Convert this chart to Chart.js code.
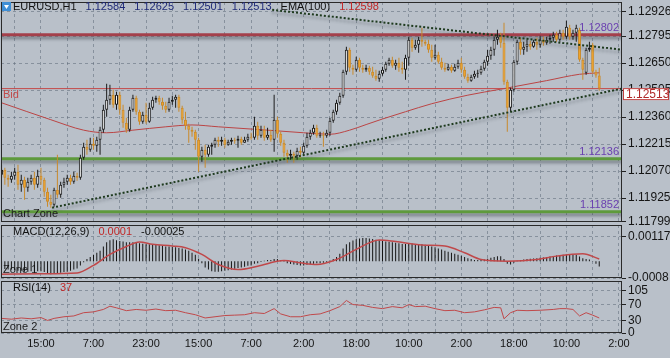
<!DOCTYPE html>
<html><head><meta charset="utf-8">
<script src="https://cdn.jsdelivr.net/npm/chart.js@4.4.1/dist/chart.umd.min.js"></script>
<style>
html,body{margin:0;padding:0;}
body{width:670px;height:358px;overflow:hidden;background:#b9c0c9;position:relative;}
canvas{position:absolute;left:0;}
</style></head><body>
<canvas id="main" width="670" height="240" style="top:0;width:670px;height:240px"></canvas>
<canvas id="macd" width="670" height="75" style="top:214px;width:670px;height:75px"></canvas>
<canvas id="rsi" width="670" height="88" style="top:270px;width:670px;height:88px"></canvas>
<script>
// ---------------- DATA ----------------
const symbol = 'EURUSD,H1';
const tickLabels = ['15:00','7:00','23:00','15:00','7:00','2:00','18:00','10:00','2:00','18:00','10:00','2:00'];
const priceTicks = [1.11799,1.11925,1.12070,1.12215,1.12360,1.12505,1.12650,1.12795,1.12926];
const macdTicks = [-0.0008,0.00117];
const rsiTicks = [0,30,70,105];

const opens = [
1.12051,1.12077,1.12034,1.12024,1.12045,1.12067,1.11997,1.12024,1.11981,1.12013,
1.12034,1.11997,1.12045,1.12024,1.11959,1.11906,1.11890,1.11970,1.11943,1.11997,
1.12013,1.12034,1.12013,1.12045,1.12034,1.12142,1.12201,1.12185,1.12217,1.12206,
1.12239,1.12292,1.12400,1.12453,1.12480,1.12427,1.12480,1.12400,1.12330,1.12292,
1.12400,1.12464,1.12389,1.12335,1.12373,1.12335,1.12410,1.12453,1.12464,1.12443,
1.12421,1.12400,1.12443,1.12453,1.12470,1.12410,1.12346,1.12314,1.12292,1.12282,
1.12239,1.12147,1.12185,1.12158,1.12201,1.12212,1.12239,1.12228,1.12239,1.12212,
1.12228,1.12239,1.12233,1.12244,1.12223,1.12239,1.12255,1.12249,1.12314,1.12260,
1.12292,1.12249,1.12266,1.12239,1.12346,1.12271,1.12223,1.12169,1.12153,1.12163,
1.12153,1.12180,1.12169,1.12206,1.12255,1.12276,1.12303,1.12260,1.12266,1.12260,
1.12276,1.12341,1.12389,1.12437,1.12475,1.12604,1.12722,1.12625,1.12614,1.12668,
1.12625,1.12614,1.12625,1.12604,1.12582,1.12566,1.12593,1.12614,1.12646,1.12668,
1.12636,1.12652,1.12625,1.12614,1.12679,1.12775,1.12732,1.12748,1.12775,1.12765,
1.12754,1.12722,1.12679,1.12695,1.12657,1.12625,1.12614,1.12630,1.12609,1.12630,
1.12652,1.12614,1.12577,1.12555,1.12577,1.12593,1.12598,1.12620,1.12657,1.12689,
1.12722,1.12775,1.12791,1.12759,1.12550,1.12410,1.12507,1.12657,1.12765,1.12722,
1.12738,1.12754,1.12738,1.12765,1.12748,1.12775,1.12759,1.12775,1.12786,1.12802,
1.12775,1.12813,1.12791,1.12840,1.12791,1.12813,1.12829,1.12668,1.12598,1.12722,
1.12748,1.12604,1.12584];
const highs = [
1.12104,1.12088,1.12051,1.12067,1.12088,1.12104,1.12051,1.12040,1.12034,1.12051,
1.12067,1.12077,1.12088,1.12034,1.11981,1.11943,1.11981,1.12158,1.12013,1.12034,
1.12051,1.12051,1.12067,1.12061,1.12158,1.12223,1.12239,1.12249,1.12249,1.12255,
1.12308,1.12427,1.12539,1.12534,1.12507,1.12496,1.12496,1.12427,1.12357,1.12416,
1.12480,1.12475,1.12400,1.12389,1.12437,1.12437,1.12470,1.12475,1.12475,1.12464,
1.12443,1.12464,1.12475,1.12480,1.12480,1.12421,1.12389,1.12325,1.12308,1.12292,
1.12249,1.12201,1.12212,1.12212,1.12223,1.12249,1.12255,1.12255,1.12249,1.12239,
1.12249,1.12249,1.12260,1.12255,1.12255,1.12271,1.12276,1.12362,1.12335,1.12314,
1.12314,1.12303,1.12292,1.12480,1.12362,1.12282,1.12239,1.12185,1.12185,1.12174,
1.12196,1.12201,1.12223,1.12276,1.12292,1.12319,1.12319,1.12282,1.12282,1.12292,
1.12357,1.12400,1.12453,1.12491,1.12614,1.12738,1.12732,1.12641,1.12684,1.12679,
1.12641,1.12641,1.12636,1.12630,1.12614,1.12609,1.12630,1.12657,1.12679,1.12684,
1.12668,1.12679,1.12657,1.12695,1.12791,1.12786,1.12775,1.12791,1.12840,1.12775,
1.12775,1.12748,1.12748,1.12711,1.12679,1.12652,1.12646,1.12641,1.12646,1.12668,
1.12679,1.12630,1.12593,1.12588,1.12609,1.12614,1.12636,1.12668,1.12722,1.12738,
1.12791,1.12829,1.12813,1.12867,1.12561,1.12518,1.12668,1.12775,1.12786,1.12765,
1.12775,1.12770,1.12775,1.12786,1.12797,1.12791,1.12791,1.12802,1.12818,1.12818,
1.12829,1.12829,1.12877,1.12856,1.12829,1.12856,1.12840,1.12679,1.12732,1.12765,
1.12759,1.12614,1.12625];
const lows = [
1.12034,1.11997,1.11986,1.12008,1.12024,1.11970,1.11959,1.11916,1.11959,1.11997,
1.11970,1.11981,1.11997,1.11933,1.11879,1.11874,1.11879,1.11927,1.11927,1.11981,
1.11997,1.11997,1.12002,1.12018,1.12024,1.12131,1.12158,1.12174,1.12185,1.12174,
1.12158,1.12276,1.12362,1.12427,1.12410,1.12400,1.12373,1.12303,1.12276,1.12282,
1.12389,1.12373,1.12319,1.12325,1.12325,1.12330,1.12400,1.12437,1.12427,1.12400,
1.12384,1.12389,1.12427,1.12410,1.12389,1.12325,1.12292,1.12223,1.12255,1.12185,
1.12067,1.12120,1.12088,1.12147,1.12158,1.12196,1.12201,1.12206,1.12196,1.12206,
1.12212,1.12217,1.12196,1.12212,1.12223,1.12228,1.12239,1.12239,1.12239,1.12249,
1.12233,1.12239,1.12228,1.12174,1.12249,1.12206,1.12147,1.12115,1.12131,1.12115,
1.12131,1.12142,1.12158,1.12196,1.12239,1.12266,1.12249,1.12249,1.12201,1.12249,
1.12260,1.12330,1.12373,1.12427,1.12464,1.12588,1.12604,1.12588,1.12604,1.12604,
1.12598,1.12604,1.12588,1.12571,1.12555,1.12550,1.12582,1.12604,1.12636,1.12625,
1.12614,1.12604,1.12593,1.12561,1.12636,1.12711,1.12722,1.12705,1.12738,1.12743,
1.12705,1.12657,1.12668,1.12646,1.12614,1.12604,1.12609,1.12598,1.12604,1.12620,
1.12598,1.12566,1.12545,1.12550,1.12566,1.12571,1.12588,1.12609,1.12636,1.12668,
1.12689,1.12748,1.12732,1.12534,1.12282,1.12389,1.12496,1.12641,1.12695,1.12695,
1.12711,1.12722,1.12732,1.12722,1.12732,1.12743,1.12748,1.12754,1.12765,1.12765,
1.12765,1.12775,1.12781,1.12775,1.12775,1.12765,1.12657,1.12561,1.12588,1.12711,
1.12593,1.12571,1.12501];
const closes = [
1.12077,1.12034,1.12024,1.12045,1.12067,1.11997,1.12024,1.11981,1.12013,1.12034,
1.11997,1.12045,1.12024,1.11959,1.11906,1.11890,1.11970,1.11943,1.11997,1.12013,
1.12034,1.12013,1.12045,1.12034,1.12142,1.12201,1.12185,1.12217,1.12206,1.12239,
1.12292,1.12400,1.12453,1.12480,1.12427,1.12480,1.12400,1.12330,1.12292,1.12400,
1.12464,1.12389,1.12335,1.12373,1.12335,1.12410,1.12453,1.12464,1.12443,1.12421,
1.12400,1.12443,1.12453,1.12470,1.12410,1.12346,1.12314,1.12292,1.12282,1.12239,
1.12147,1.12185,1.12158,1.12201,1.12212,1.12239,1.12228,1.12239,1.12212,1.12228,
1.12239,1.12233,1.12244,1.12223,1.12239,1.12255,1.12249,1.12314,1.12260,1.12292,
1.12249,1.12266,1.12239,1.12346,1.12271,1.12223,1.12169,1.12153,1.12163,1.12153,
1.12180,1.12169,1.12206,1.12255,1.12276,1.12303,1.12260,1.12266,1.12260,1.12276,
1.12341,1.12389,1.12437,1.12475,1.12604,1.12722,1.12625,1.12614,1.12668,1.12625,
1.12614,1.12625,1.12604,1.12582,1.12566,1.12593,1.12614,1.12646,1.12668,1.12636,
1.12652,1.12625,1.12614,1.12679,1.12775,1.12732,1.12748,1.12775,1.12765,1.12754,
1.12722,1.12679,1.12695,1.12657,1.12625,1.12614,1.12630,1.12609,1.12630,1.12652,
1.12614,1.12577,1.12555,1.12577,1.12593,1.12598,1.12620,1.12657,1.12689,1.12722,
1.12775,1.12791,1.12759,1.12550,1.12410,1.12507,1.12657,1.12765,1.12722,1.12738,
1.12754,1.12738,1.12765,1.12748,1.12775,1.12759,1.12775,1.12786,1.12802,1.12775,
1.12813,1.12791,1.12845,1.12791,1.12813,1.12840,1.12668,1.12614,1.12722,1.12732,
1.12604,1.12584,1.12513];

const emaIdx  = [0,15,25,32,40,50,58,66,81,92,100,106,111,116,123,131,142,152,166,176,182];
const emaVals = [1.12437,1.12346,1.12290,1.12276,1.12290,1.12308,1.12318,1.12308,1.12290,1.12276,1.12268,1.12290,1.12320,1.12350,1.12389,1.12432,1.12478,1.12510,1.12556,1.12590,1.12598];

const levels = [1.12802,1.12136,1.11852];
const trendLowerIdx = [15.4,188.9], trendLowerVals = [1.11874,1.12513];
const trendUpperIdx = [82.4,188.9], trendUpperVals = [1.12936,1.12722];

const macdHist = [
-0.00035,-0.00037,-0.0004,-0.0004,-0.00042,-0.00045,-0.00045,-0.0005,-0.0005,-0.00048,
-0.0005,-0.00048,-0.00048,-0.00052,-0.00058,-0.00062,-0.0006,-0.00058,-0.00055,-0.00052,
-0.0005,-0.00045,-0.0004,-0.00035,-0.0002,-0.00005,0.0001,0.0002,0.0003,0.0004,
0.0005,0.0007,0.0009,0.001,0.00104,0.001,0.00096,0.00094,0.0009,0.0009,
0.0009,0.00088,0.00085,0.00083,0.0008,0.0008,0.0008,0.00078,0.00076,0.00073,
0.0007,0.0007,0.00068,0.00066,0.00063,0.0006,0.00055,0.0005,0.0004,0.0003,
0.00012,-0.0001,-0.0003,-0.0004,-0.00048,-0.0005,-0.0005,-0.00048,-0.00046,-0.00043,
-0.0004,-0.00036,-0.00032,-0.0003,-0.00026,-0.00022,-0.0002,-0.00012,-0.0001,-0.00004,
0.00002,0.00005,0.00006,0.0001,0.0001,0.00006,-0.00003,-0.0001,-0.00014,-0.00016,
-0.00018,-0.0002,-0.0002,-0.00017,-0.00015,-0.00012,-0.0001,-0.0001,-0.00008,-0.00005,
0.00003,0.0001,0.0002,0.00035,0.0006,0.0008,0.0009,0.00098,0.00104,0.00108,
0.0011,0.0011,0.00108,0.00105,0.00102,0.001,0.00096,0.00094,0.00092,0.0009,
0.00088,0.00085,0.00082,0.00082,0.00085,0.00084,0.00082,0.0008,0.0008,0.00078,
0.00075,0.0007,0.00066,0.0006,0.00055,0.0005,0.00045,0.0004,0.00035,0.0003,
0.00026,0.0002,0.00014,0.0001,0.00006,0.00005,0.00005,0.00008,0.00012,0.00016,
0.0002,0.00024,0.00024,0.0001,-0.00012,-0.00016,-0.00008,0.00002,0.00006,0.00008,
0.0001,0.00012,0.00013,0.00014,0.00016,0.00018,0.0002,0.00022,0.00025,0.00027,
0.00028,0.0003,0.00032,0.00032,0.0003,0.0003,0.00022,0.00014,0.0001,0.00008,
-0.00002,-0.00012,-0.00025];
const signalIdx  = [0,12,23,28,33,38,42,46,52,56,61,66,72,78,86,91,96,102,108,115,120,128,135,141,146,154,163,169,177,182];
const signalVals = [-0.00062,-0.0006,-0.00056,-0.0002,0.00032,0.0007,0.00091,0.0008,0.00072,0.00064,
0.00032,-0.00016,-0.0004,-0.00024,0.00003,-0.00008,-0.00016,0.00008,0.00056,0.00101,
0.00093,0.00077,0.00072,0.0004,0.00008,0.0,0.00008,0.00024,0.00035,0.0001];
const macdHeader = ['0.0001','-0.00025'];

const rsiIdx  = [0,3,6,9,12,14,16,19,22,25,28,31,33,35,38,41,44,47,50,53,56,59,62,65,68,71,74,77,80,83,85,88,91,94,97,100,103,105,107,110,113,116,119,122,124,126,129,132,135,138,141,144,147,150,152,153,155,157,160,164,168,170,172,174,176,178,180,182];
const rsiVals = [36,34,37,35,38,31,36,40,42,50,52,58,66,62,55,58,56,59,55,56,50,45,37,40,43,44,45,50,48,60,47,40,40,45,47,55,65,80,70,68,63,60,65,62,70,65,66,60,55,56,50,52,57,63,62,35,50,56,55,56,58,60,60,58,42,50,44,37];
const rsiHeader = '37';

// ---------------- LAYOUT / STYLE ----------------
const FONT = '"Liberation Sans Narrow","Liberation Sans",Roboto,sans-serif';
const X_MIN = -0.17, X_MAX = 188.93, GRID_FIRST = 4, GRID_STEP = 8, LABEL_FIRST = 12, LABEL_STEP = 16;
const GRID = 'rgba(95,105,120,0.55)';
const BULL_FILL = '#f2f2f2', BULL_LINE = '#1b1b1b', BEAR_FILL = '#f2a52c', BEAR_LINE = '#c98a2c';
const LAST = closes.length - 1;
const isBull = i => closes[i] >= opens[i];
Chart.defaults.font.family = FONT;

function xScale(showLabels) {
  return {
    type: 'linear', min: X_MIN, max: X_MAX, offset: false,
    afterBuildTicks: s => { const t = []; for (let v = GRID_FIRST; v <= X_MAX; v += GRID_STEP) t.push({value: v}); s.ticks = t; },
    afterFit: s => { s.paddingLeft = 0; s.paddingRight = 0; s.height = showLabels ? 25 : 0; },
    grid: {color: GRID, drawTicks: false, lineWidth: 1, offset: false, borderDash: [3, 3]},
    border: {display: false, dash: [3, 3]},
    ticks: {display: showLabels, autoSkip: false, maxRotation: 0, padding: 4,
      font: {family: FONT, size: 11}, color: '#151515',
      callback: v => { const k = (v - LABEL_FIRST) / LABEL_STEP; return Number.isInteger(k) && k >= 0 && k < tickLabels.length ? tickLabels[k] : ''; }}
  };
}
function yScale(min, max, ticks, fmt) {
  return {
    position: 'right', min, max,
    afterBuildTicks: s => { s.ticks = ticks.map(v => ({value: v})); },
    afterFit: s => { s.width = 48; s.paddingTop = 0; s.paddingBottom = 0; },
    grid: {color: GRID, drawTicks: true, tickLength: 4, tickColor: '#222', tickBorderDash: [], borderDash: [3, 3]},
    border: {display: false, dash: [3, 3]},
    ticks: {padding: 2, autoSkip: false, font: {family: FONT, size: 12}, color: '#151515', callback: fmt}
  };
}
const shadowPlugin = {
  id: 'shadow',
  beforeDatasetDraw(chart, args) {
    if (chart.data.datasets[args.index].shadow) {
      const c = chart.ctx; c.save();
      c.shadowColor = 'rgba(45,50,60,0.45)'; c.shadowBlur = 3; c.shadowOffsetY = 3;
    }
  },
  afterDatasetDraw(chart, args) {
    if (chart.data.datasets[args.index].shadow) chart.ctx.restore();
  }
};
function frame(chart) {
  const c = chart.ctx, a = chart.chartArea;
  c.save(); c.strokeStyle = '#2a2a2a'; c.lineWidth = 1;
  c.strokeRect(a.left + 0.5, a.top + 0.5, a.width - 1, a.height - 1); c.restore();
}
function textRow(c, parts, x, y) {
  for (const [t, col] of parts) { c.fillStyle = col; c.fillText(t, x, y); x += c.measureText(t).width + 9; }
}
const common = {responsive: false, animation: false, devicePixelRatio: 1,
  plugins: {legend: {display: false}, tooltip: {enabled: false}}};

// ---------------- MAIN PRICE CHART ----------------
const pts = (xs, ys) => xs.map((x, k) => ({x, y: ys[k]}));
const mainDatasets = [];
levels.forEach((lv, k) => mainDatasets.push({
  type: 'line', data: [{x: X_MIN, y: lv}, {x: X_MAX, y: lv}], borderColor: k === 0 ? '#a4404b' : '#5e9a3c',
  borderWidth: 3, pointRadius: 0, shadow: true, order: 7}));
mainDatasets.push({type: 'line', data: [{x: X_MIN, y: closes[LAST]}, {x: X_MAX, y: closes[LAST]}],
  borderColor: '#c44848', borderWidth: 1, pointRadius: 0, order: 6});
mainDatasets.push({type: 'line', data: pts(emaIdx, emaVals), borderColor: '#bb4444', borderWidth: 1,
  pointRadius: 0, cubicInterpolationMode: 'monotone', order: 5});
mainDatasets.push({type: 'bar', data: lows.map((l, i) => ({x: i, y: [l, highs[i]]})), barThickness: 1,
  backgroundColor: c => isBull(c.dataIndex) ? BULL_LINE : BEAR_LINE, borderWidth: 0, grouped: false, inflateAmount: 0, order: 4});
mainDatasets.push({type: 'bar', data: opens.map((o, i) => ({x: i, y: [o, closes[i]]})), barThickness: 3, minBarLength: 1,
  backgroundColor: c => isBull(c.dataIndex) ? BULL_FILL : BEAR_FILL,
  borderColor: c => isBull(c.dataIndex) ? BULL_LINE : BEAR_LINE,
  borderWidth: 1, borderSkipped: false, grouped: false, inflateAmount: 0, order: 3});
mainDatasets.push({type: 'line', data: pts(trendLowerIdx, trendLowerVals), borderColor: '#1e3a1e', borderWidth: 2,
  borderDash: [2, 2], pointRadius: 0, shadow: true, order: 1});
mainDatasets.push({type: 'line', data: pts(trendUpperIdx, trendUpperVals), borderColor: '#1e3a1e', borderWidth: 2,
  borderDash: [2, 2], pointRadius: 0, shadow: true, order: 1});

const mainText = {
  id: 'mainText',
  afterDraw(chart) {
    frame(chart);
    const c = chart.ctx, a = chart.chartArea, ys = chart.scales.y;
    c.save();
    c.fillStyle = '#3f8fd6'; c.fillRect(2, 2, 9, 9);
    c.fillStyle = '#ffffff'; c.beginPath(); c.moveTo(4, 5); c.lineTo(9, 5); c.lineTo(6.5, 9); c.closePath(); c.fill();
    c.font = '11px ' + FONT; c.textBaseline = 'middle'; c.textAlign = 'left';
    const NAVY = '#1f2a78';
    textRow(c, [[symbol, '#111'], [opens[LAST].toFixed(5), NAVY], [highs[LAST].toFixed(5), NAVY],
      [lows[LAST].toFixed(5), NAVY], [closes[LAST].toFixed(5), NAVY], ['EMA(100)', '#111'],
      [emaVals[emaVals.length - 1].toFixed(5), '#c02828']], 13, a.top + 5);
    c.textAlign = 'right'; c.fillStyle = '#6a40b0';
    levels.forEach(lv => c.fillText(lv.toFixed(5), a.right - 3, ys.getPixelForValue(lv) - 7));
    c.textAlign = 'left';
    const by = ys.getPixelForValue(closes[LAST]);
    c.fillStyle = '#c24a4a'; c.fillText('Bid', 3, by + 6);
    c.fillStyle = '#1a1a1a'; c.fillText('Chart Zone', 3, a.bottom - 8);
    c.fillStyle = '#ffffff'; c.fillRect(623, by - 0.5, 46, 12);
    c.strokeStyle = '#c04040'; c.lineWidth = 1; c.strokeRect(623.5, by, 45, 11);
    c.font = '12px ' + FONT; c.fillStyle = '#b02a2a'; c.fillText(closes[LAST].toFixed(5), 626, by + 6);
    c.restore();
  }
};

new Chart(document.getElementById('main'), {
  type: 'bar',
  data: {datasets: mainDatasets},
  options: Object.assign({}, common, {
    layout: {padding: {top: 2, bottom: 18, left: 1, right: 0}},
    scales: {x: xScale(false), y: yScale(1.11797, 1.12978, priceTicks, v => v.toFixed(5))}
  }),
  plugins: [shadowPlugin, mainText]
});

// ---------------- MACD ----------------
const macdText = {
  id: 'macdText',
  beforeDatasetsDraw(chart) {
    const c = chart.ctx, a = chart.chartArea;
    c.save(); c.font = '11px ' + FONT; c.textBaseline = 'middle'; c.fillStyle = '#1a1a1a';
    c.fillText('Zone 1', 3, a.bottom - 8); c.restore();
  },
  afterDraw(chart) {
    frame(chart);
    const c = chart.ctx, a = chart.chartArea;
    c.save(); c.font = '11px ' + FONT; c.textBaseline = 'middle';
    textRow(c, [['MACD(12,26,9)', '#111'], [macdHeader[0], '#c02828'], [macdHeader[1], '#111']], 13, a.top + 7);
    c.restore();
  }
};
new Chart(document.getElementById('macd'), {
  type: 'bar',
  data: {datasets: [
    {type: 'line', data: pts(signalIdx, signalVals), borderColor: '#c0484a', borderWidth: 1.5, pointRadius: 0,
      cubicInterpolationMode: 'monotone', order: 1},
    {type: 'bar', data: macdHist.map((v, i) => ({x: i, y: v})), barThickness: 1, backgroundColor: '#151515',
      borderWidth: 0, grouped: false, inflateAmount: 0, order: 2}
  ]},
  options: Object.assign({}, common, {
    layout: {padding: {top: 11, bottom: 11, left: 1, right: 0}},
    scales: {x: xScale(false), y: yScale(-0.0008, 0.00172, macdTicks, v => String(v))}
  }),
  plugins: [macdText]
});

// ---------------- RSI ----------------
const rsiText = {
  id: 'rsiText',
  afterDraw(chart) {
    frame(chart);
    const c = chart.ctx, a = chart.chartArea;
    c.save(); c.font = '11px ' + FONT; c.textBaseline = 'middle';
    textRow(c, [['RSI(14)', '#111'], [rsiHeader, '#c02828']], 13, a.top + 7);
    c.fillStyle = '#1a1a1a'; c.fillText('Zone 2', 3, a.bottom - 6);
    c.restore();
  }
};
new Chart(document.getElementById('rsi'), {
  type: 'line',
  data: {datasets: [
    {data: pts(rsiIdx, rsiVals), borderColor: '#c0484a', borderWidth: 1, pointRadius: 0, tension: 0}
  ]},
  options: Object.assign({}, common, {
    layout: {padding: {top: 11, bottom: 0, left: 1, right: 0}},
    scales: {x: xScale(true), y: yScale(0, 128, rsiTicks, v => String(v))}
  }),
  plugins: [rsiText]
});
</script>
</body></html>
